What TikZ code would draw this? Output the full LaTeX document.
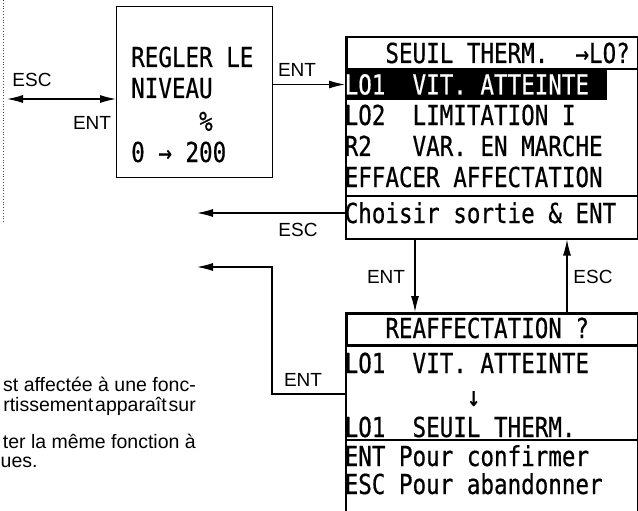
\documentclass[tikz,border=0pt]{standalone}
\usepackage{fontspec}
\setmainfont{Liberation Sans}
\newfontfamily\lcdfont[FakeStretch=0.82,FakeBold=0.6]{DejaVu Sans Mono}
\usetikzlibrary{arrows.meta}
\newcommand\bl{\hphantom{0}}
\begin{document}
\begin{tikzpicture}[x=1pt,y=-1pt,
  lbl/.style={font=\fontsize{19}{21}\selectfont, inner sep=0pt},
  lcd/.style={font=\lcdfont\fontsize{27.5}{27.5}\selectfont, inner sep=0pt, anchor=west, text height=20pt, text depth=0pt},
  para/.style={font=\fontsize{19.5}{21.5}\selectfont, inner sep=0pt},
  conn/.style={line width=1.1pt, -{Latex[length=16pt,width=8pt]}},
  frame/.style={draw, inner sep=0pt, anchor=north west}
]
\useasboundingbox (0,0) rectangle (638,511);
% dotted border at left
\draw[dotted, line width=0.8pt, black!70] (3.5,0) -- (3.5,223);

% REGLER box
\node[frame, line width=0.9pt, minimum width=156pt, minimum height=171pt] (regbox) at (116,6) {};
\node[lcd] (g1) at (131,57) {REGLER\bl LE};
\node[lcd] (g2) at (131,88) {NIVEAU};
\node[lcd] (g3) at (131,121) {\bl\bl\bl\bl\bl \%};
\node[lcd] (g4) at (131,152) {0\bl →\bl 200};

% SEUIL box
\node[frame, line width=1.5pt, minimum width=292pt, minimum height=202pt] (sbox) at (345,36) {};
\node[frame, line width=2.5pt, minimum width=292pt, minimum height=32pt] (shead) at (345,36) {};
\fill (345,69) rectangle (607,100);
\node[lcd] (s0) at (344.5,53) {\bl\bl\bl SEUIL\bl THERM.\bl\bl →LO?};
\node[lcd, text=white] (s1) at (344.5,84.5) {LO1\bl\bl VIT.\bl ATTEINTE};
\node[lcd] (s2) at (344.5,115) {LO2\bl\bl LIMITATION\bl I};
\node[lcd] (s3) at (344.5,146) {R2\bl\bl\bl VAR.\bl EN\bl MARCHE};
\node[lcd] (s4) at (344.5,177) {EFFACER\bl AFFECTATION};
\draw[line width=2pt] (345,196) -- (637,196);
\node[lcd] (s5) at (344.5,213) {Choisir\bl sortie\bl \&\bl ENT};

% REAFFECTATION box
\node[frame, line width=1.5pt, minimum width=292pt, minimum height=215pt] (rbox) at (345,312) {};
\node[frame, line width=2.5pt, minimum width=292pt, minimum height=32pt] (rhead) at (345,312) {};
\node[lcd] (r0) at (344.5,328) {\bl\bl\bl REAFFECTATION\bl ?};
\node[lcd] (r1) at (344.5,363) {LO1\bl\bl VIT.\bl ATTEINTE};
\node[lcd] (r2) at (344.5,396) {\bl\bl\bl\bl\bl\bl\bl\bl\bl ↓};
\node[lcd] (r3) at (344.5,427) {LO1\bl\bl SEUIL\bl THERM.};
\draw[line width=2pt] (345,440) -- (637,440);
\node[lcd] (r4) at (344.5,456) {ENT\bl Pour\bl confirmer};
\node[lcd] (r5) at (344.5,484) {ESC\bl Pour\bl abandonner};

% connectors
\coordinate (lefttip) at (7,99);
\draw[line width=1.1pt, {Latex[length=16pt,width=8pt]}-{Latex[length=16pt,width=8pt]}] (lefttip) -- (regbox.west |- lefttip);
\node[lbl] (lesc) at (32,80) {ESC};
\node[lbl] (lent) at (92,123) {ENT};

\draw[conn] (regbox.east |- s1.west) -- (sbox.west |- s1.west);
\node[lbl] (tent) at (297,70) {ENT};

\coordinate (esctip) at (197,213);
\draw[conn] (sbox.west |- esctip) -- (esctip);
\node[lbl] (mesc) at (298,230) {ESC};

\coordinate (entx) at (415,0);
\coordinate (escx) at (567,0);
\draw[conn] (sbox.south -| entx) -- (rbox.north -| entx);
\node[lbl] (dent) at (386,277) {ENT};
\draw[conn] (rbox.north -| escx) -- (sbox.south -| escx);
\node[lbl] (uesc) at (593,277) {ESC};

\coordinate (bend1) at (272,394);
\coordinate (enttip) at (197,267);
\draw[conn] (rbox.west |- bend1) -- (bend1) -- (bend1 |- enttip) -- (enttip);
\node[lbl] (bent) at (303,380) {ENT};

% cut-off paragraph
\node[para, anchor=base east] (p1) at (196,391) {st affectée à une fonc-};
\node[para, anchor=base east] (p2) at (196,411) {rtissement\hspace{0.1em}apparaît\hspace{0.1em}sur};
\node[para, anchor=base east] (p3) at (196,448) {ter la même fonction à};
\node[para, anchor=base west] (p4) at (0.5,467) {ues.};
\end{tikzpicture}
\end{document}
